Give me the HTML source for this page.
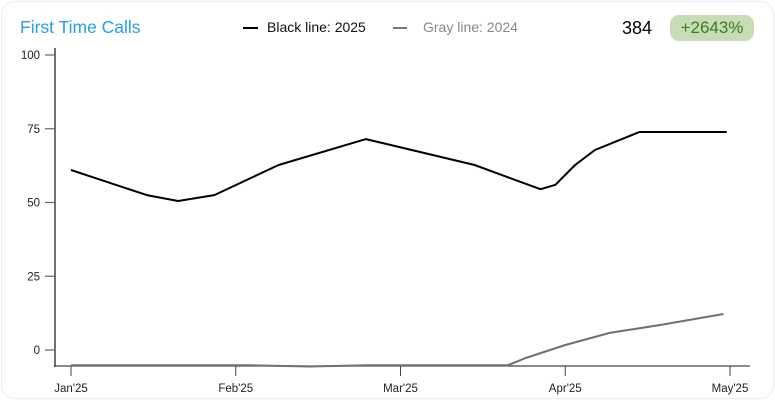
<!DOCTYPE html>
<html><head><meta charset="utf-8"><style>
html,body{margin:0;padding:0;background:#fff;}
body{width:775px;height:400px;overflow:hidden;font-family:"Liberation Sans",sans-serif;position:relative;}
.card{position:absolute;left:1px;top:1px;width:771px;height:396px;border:1px solid #eee;border-radius:14px;}
.t{position:absolute;white-space:nowrap;}
</style></head><body>
<div class="card"></div>
<div class="t" style="left:20px;top:17px;font-size:17.5px;color:#2b9fe3;">First Time Calls</div>
<div style="position:absolute;left:243px;top:27px;width:15px;height:2px;background:#000"></div>
<div class="t" style="left:267px;top:19px;font-size:14px;color:#111;">Black line: 2025</div>
<div style="position:absolute;left:393px;top:27px;width:14px;height:2px;background:#777"></div>
<div class="t" style="left:423px;top:19px;font-size:14px;color:#888;">Gray line: 2024</div>
<div class="t" style="left:622px;top:18px;font-size:18px;color:#000;">384</div>
<div class="t" style="left:670px;top:15px;width:84px;height:26px;line-height:26px;text-align:center;border-radius:9px;background:#c6dbb6;color:#3d7a20;font-size:17px;">+2643%</div>
<svg id="chart" width="775" height="400" style="position:absolute;left:0;top:0"></svg>
<script>
const yTicks=[0,25,50,75,100];
const xLabels=["Jan'25","Feb'25","Mar'25","Apr'25","May'25"];
const blackX=[0,0.46,0.65,0.87,1.26,1.79,2.45,2.85,2.94,3.06,3.18,3.45,3.98];
const blackY=[61,52.5,50.5,52.5,62.7,71.5,62.7,54.5,56,62.7,67.8,73.9,73.9];
const grayX=[0,1.08,1.45,1.8,2.65,2.76,3.0,3.27,3.58,3.96];
const grayY=[-5.2,-5.2,-5.6,-5.2,-5.2,-2.7,1.7,5.8,8.5,12.2];
const NS="http://www.w3.org/2000/svg",svg=document.getElementById('chart');
const xs=i=>71+i*164.75, ys=v=>350-v*2.95;
function mk(t,a){const e=document.createElementNS(NS,t);for(const k in a)e.setAttribute(k,a[k]);svg.appendChild(e);return e;}
let e=mk('line',{x1:55,y1:48,x2:55,y2:367,stroke:'#111','stroke-width':1.2});


e=mk('line',{x1:54,y1:366,x2:750,y2:366,stroke:'#444','stroke-width':1.2});


yTicks.forEach(v=>{
 let l=mk('line',{x1:45,x2:55,y1:ys(v),y2:ys(v),stroke:'#666','stroke-width':1.2});
 
 
 let t=mk('text',{x:40,y:ys(v)+4,'text-anchor':'end','font-size':11.5,fill:'#222','font-family':'Liberation Sans'});
 t.textContent=v;
 
 
});
xLabels.forEach((s,i)=>{
 let l=mk('line',{x1:xs(i),x2:xs(i),y1:366,y2:376,stroke:'#444','stroke-width':1});
 
 
 let t=mk('text',{x:xs(i),y:392,'text-anchor':'middle','font-size':11.5,fill:'#222','font-family':'Liberation Sans'});
 t.textContent=s;
 
 
});
function path(X,Y){return X.map((x,i)=>(i?'L':'M')+xs(x).toFixed(1)+','+ys(Y[i]).toFixed(1)).join(' ');}
e=mk('path',{d:path(grayX,grayY),fill:'none',stroke:'#707070','stroke-width':2,'stroke-linejoin':'round'});


e=mk('path',{d:path(blackX,blackY),fill:'none',stroke:'#000','stroke-width':2,'stroke-linejoin':'round'});


</script>
</body></html>
